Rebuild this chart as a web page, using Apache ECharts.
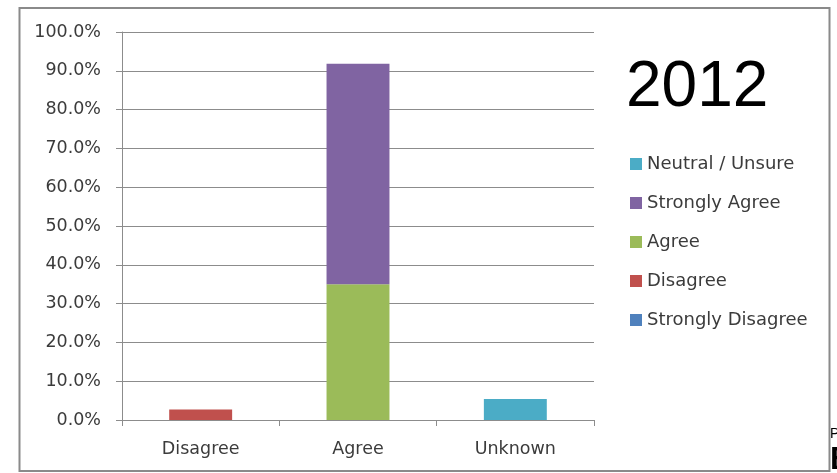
<!DOCTYPE html>
<html>
<head>
<meta charset="utf-8">
<script src="https://cdn.jsdelivr.net/npm/echarts@6/dist/echarts.min.js"></script>
<style>
  html, body { margin: 0; padding: 0; background: #fff; }
  #chart { width: 837px; height: 473px; }
</style>
</head>
<body>
<div id="chart"></div>
<script>
// Survey responses, 2012 (percent of respondents)
const categories = ['Disagree', 'Agree', 'Unknown'];
const stronglyDisagree = [0, 0, 0];
const disagree = [2.7, 0, 0];
const agree = [0, 35.0, 0];
const stronglyAgree = [0, 56.8, 0];
const neutralUnsure = [0, 0, 5.4];
const yearTitle = '2012';
const legendOrder = ['Neutral / Unsure', 'Strongly Agree', 'Agree', 'Disagree', 'Strongly Disagree'];

const labelFont = '"DejaVu Sans", "Open Sans", sans-serif';
const textColor = '#3b3b3b';
const lineGray = '#8c8c8c';

function stackSeries(name, data, color) {
  return {
    name: name,
    type: 'bar',
    stack: 'total',
    data: data,
    barWidth: '40%',
    itemStyle: { color: color },
    emphasis: { disabled: true }
  };
}

const chart = echarts.init(document.getElementById('chart'), null, { renderer: 'canvas' });

chart.setOption({
  animation: false,
  backgroundColor: '#ffffff',
  title: {
    text: yearTitle,
    left: 621,
    top: 51,
    textStyle: {
      fontFamily: '"Liberation Sans", Arial, sans-serif',
      fontSize: 64,
      fontWeight: 'normal',
      color: '#000000'
    }
  },
  legend: {
    orient: 'vertical',
    left: 630,
    top: 153,
    padding: 0,
    itemWidth: 12,
    itemHeight: 12,
    itemGap: 17,
    icon: 'rect',
    data: legendOrder,
    selectedMode: false,
    textStyle: {
      fontFamily: labelFont,
      fontSize: 18,
      color: textColor,
      lineHeight: 22,
      padding: [0, 0, 0, 0]
    }
  },
  grid: {
    left: 122,
    right: 243,
    top: 32,
    bottom: 53,
    containLabel: false
  },
  xAxis: {
    type: 'category',
    data: categories,
    axisLine: { show: true, lineStyle: { color: lineGray, width: 1 } },
    axisTick: { show: true, alignWithLabel: false, length: 6, lineStyle: { color: lineGray } },
    axisLabel: {
      fontFamily: labelFont,
      fontSize: 17.5,
      color: textColor,
      margin: 20
    },
    splitLine: { show: false }
  },
  yAxis: {
    type: 'value',
    min: 0,
    max: 100,
    interval: 10,
    axisLine: { show: true, lineStyle: { color: lineGray, width: 1 } },
    axisTick: { show: true, length: 6, lineStyle: { color: lineGray } },
    axisLabel: {
      fontFamily: labelFont,
      fontSize: 17.5,
      color: textColor,
      margin: 21,
      formatter: function (v) { return v.toFixed(1) + '%'; }
    },
    splitLine: { show: true, lineStyle: { color: lineGray, width: 1 } }
  },
  series: [
    stackSeries('Strongly Disagree', stronglyDisagree, '#4F81BD'),
    stackSeries('Disagree', disagree, '#C0504D'),
    stackSeries('Agree', agree, '#9BBB59'),
    stackSeries('Strongly Agree', stronglyAgree, '#8064A2'),
    stackSeries('Neutral / Unsure', neutralUnsure, '#4BACC6')
  ],
  graphic: [
    {
      type: 'rect',
      silent: true,
      z: -1,
      shape: { x: 19.5, y: 8, width: 810, height: 463 },
      style: { fill: 'none', stroke: '#8a8a8a', lineWidth: 2 }
    },
    {
      type: 'text',
      silent: true,
      left: 830,
      top: 427,
      style: { text: 'P', fontFamily: '"Liberation Sans", Arial, sans-serif', fontSize: 14, fill: '#000' }
    },
    {
      type: 'text',
      silent: true,
      left: 830,
      top: 444,
      style: { text: 'B', fontFamily: '"Liberation Sans", Arial, sans-serif', fontSize: 32, fontWeight: 'bold', fill: '#000' }
    }
  ]
});
</script>
</body>
</html>
